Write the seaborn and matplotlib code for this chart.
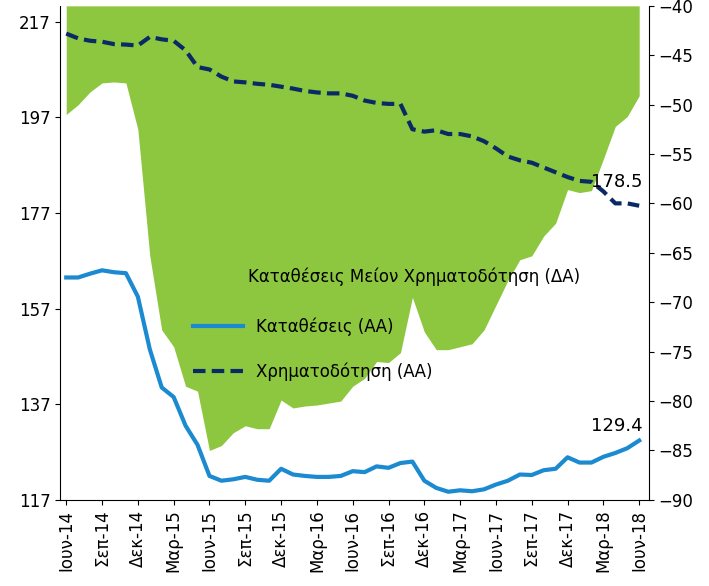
import matplotlib
matplotlib.use("Agg")
import matplotlib.pyplot as plt
import seaborn as sns
import pandas as pd
import numpy as np

months = pd.date_range("2014-06-01", "2018-06-01", freq="MS")
deposits = [163.5,163.5,164.3,165,164.6,164.4,159.5,148.5,140.5,138.5,132.5,128.5,122,121,121.3,121.8,121.2,121,123.5,
            122.3,122,121.8,121.8,122,123,122.8,124,123.7,124.7,125,121,119.5,118.7,119,118.8,119.2,120.2,121,122.3,
            122.2,123.2,123.5,125.9,124.8,124.8,126,126.8,127.8,129.4]
loans = [214.5,213.5,213,212.8,212.3,212.2,212,213.8,213.3,213,211,207.5,207,205.5,204.5,204.3,204,203.8,203.4,
         203,202.5,202.2,202,202,201.5,200.5,200,199.8,199.8,194.5,194,194.3,193.5,193.5,193,192,190.5,188.8,188,
         187.5,186.5,185.5,184.5,183.7,183.5,181.5,179,179,178.5]
gr = {6:"Ιουν",9:"Σεπ",12:"Δεκ",3:"Μαρ"}
df = pd.DataFrame({"x": np.arange(len(months)), "dep": deposits, "loan": loans})
df["diff"] = df["dep"] - df["loan"]

fig = plt.figure(figsize=(7.09, 5.86), dpi=100)
ax = fig.add_axes([0.085, 0.147, 0.83, 0.843])
ax2 = ax.twinx()
ax2.fill_between(df["x"], df["diff"], -40, color="#8DC63F", lw=0, zorder=1)
ax2.set_ylim(-90, -40)
ax2.set_yticks(np.arange(-90, -39, 5))
ax.set_zorder(2); ax.patch.set_visible(False)
sns.lineplot(data=df, x="x", y="dep", ax=ax, color="#1B8AD0", lw=3, label="Καταθέσεις (ΑΑ)")
sns.lineplot(data=df, x="x", y="loan", ax=ax, color="#0A2A66", lw=3, ls=(0,(3,1.5)), label="Χρηματοδότηση (ΑΑ)")
ax.set_ylim(117, 220.3)
ax.set_yticks(range(117, 218, 20))
ax.set_xlim(-0.5, 48.8)
ticks = list(range(0, 49, 3))
ax.set_xticks(ticks)
ax.set_xticklabels([f"{gr[months[i].month]}-{months[i].strftime('%y')}" for i in ticks], rotation=90)
ax.set_xlabel(""); ax.set_ylabel("")
for a in (ax, ax2):
    a.tick_params(labelsize=12, direction="out")
    for s in a.spines.values():
        s.set_visible(False)
ax.spines["bottom"].set_visible(True); ax.spines["left"].set_visible(True)
ax2.spines["right"].set_visible(True)
ax.legend(loc="upper left", bbox_to_anchor=(0.2, 0.4), frameon=False, fontsize=12, handlelength=3, labelspacing=1.6)
ax.text(15.2, 162.5, "Καταθέσεις Μείον Χρηματοδότηση (ΔΑ)", fontsize=12)
ax.text(48.3, 182.5, "178.5", fontsize=13, ha="right")
ax.text(48.3, 131.5, "129.4", fontsize=13, ha="right")
fig.savefig("out.png")
